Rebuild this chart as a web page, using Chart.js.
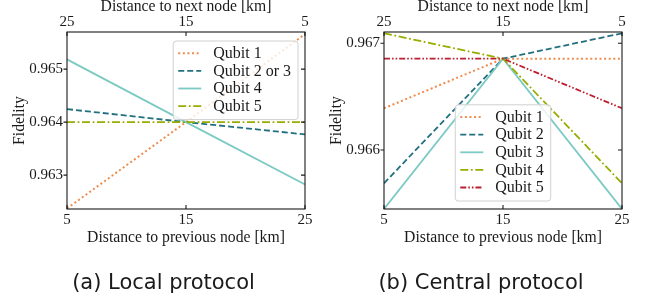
<!DOCTYPE html>
<html><head><meta charset="utf-8">
<script src="https://cdn.jsdelivr.net/npm/chart.js@4.4.1/dist/chart.umd.min.js"></script>
<style>
html,body{margin:0;padding:0;background:#fff;width:653px;height:302px;overflow:hidden;}
.wrap{position:absolute;top:0;width:326px;height:302px;}
.cap{position:absolute;top:268px;font-family:"DejaVu Sans";font-size:21px;line-height:28px;color:#1a1a1a;white-space:nowrap;transform:translateX(-50%);}
</style></head><body>
<div class="wrap" style="left:0"><canvas id="c1" width="326" height="302"></canvas></div>
<div class="wrap" style="left:317px"><canvas id="c2" width="326" height="302"></canvas></div>
<div class="cap" style="left:163.5px">(a) Local protocol</div>
<div class="cap" style="left:481px">(b) Central protocol</div>
<script>
// ---- data ----
const distances = [5, 15, 25];          // distance to previous node [km]
const bottomTicks = [5, 15, 25];
const topTicks = [25, 15, 5];           // distance to next node [km]

const localLabels = ['Qubit 1', 'Qubit 2 or 3', 'Qubit 4', 'Qubit 5'];
const localQ1  = [0.96237, 0.96400, 0.96566];
const localQ23 = [0.964245, 0.96400, 0.963768];
const localQ4  = [0.965183, 0.96400, 0.962824];
const localQ5  = [0.96400, 0.96400, 0.96400];
const localYTicks = [0.963, 0.964, 0.965];
const localYMin = 0.96236, localYMax = 0.96570;

const centralLabels = ['Qubit 1', 'Qubit 2', 'Qubit 3', 'Qubit 4', 'Qubit 5'];
const centralQ1 = [0.966391, 0.966856, 0.966856];
const centralQ2 = [0.965688, 0.966856, 0.967094];
const centralQ3 = [0.965447, 0.966856, 0.965447];
const centralQ4 = [0.967094, 0.966856, 0.965688];
const centralQ5 = [0.966856, 0.966856, 0.966391];
const centralYTicks = [0.966, 0.967];
const centralYMin = 0.965447, centralYMax = 0.967106;

// ---- styles ----
const ORANGE = {color: '#ef8c4c', dash: [2, 2.6], width: 2};
const DTEAL  = {color: '#22707f', dash: [6, 3], width: 1.8};
const LTEAL  = {color: '#7ccac3', dash: [], width: 1.8};
const OLIVE  = {color: '#98ad00', dash: [8, 2.6, 1.8, 2.6], width: 1.8};
const RED    = {color: '#bd1f30', dash: [6, 2, 1.6, 2, 1.6, 2], width: 1.8};

Chart.defaults.font.family = '"Liberation Serif"';
Chart.defaults.color = '#1a1a1a';

function ds(label, data, st, i, n) {
  return {
    label, data: distances.map((x, k) => ({x, y: data[k]})),
    borderColor: st.color, backgroundColor: st.color, borderDash: st.dash,
    borderWidth: st.width, pointRadius: 0, tension: 0, fill: false,
    borderCapStyle: 'butt', order: n - i
  };
}

const framePlugin = {
  id: 'frame',
  afterDatasetsDraw(chart, args, opts) {
    const {ctx, chartArea: a, scales} = chart;
    ctx.save();
    ctx.setLineDash([]);
    ctx.strokeStyle = '#1a1a1a';
    ctx.lineWidth = 1.1;
    ctx.strokeRect(a.left, a.top, a.right - a.left, a.bottom - a.top);
    ctx.beginPath();
    scales.x.ticks.forEach(t => { const p = scales.x.getPixelForValue(t.value); ctx.moveTo(p, a.bottom); ctx.lineTo(p, a.bottom - 4); });
    scales.x2.ticks.forEach(t => { const p = scales.x2.getPixelForValue(t.value); ctx.moveTo(p, a.top); ctx.lineTo(p, a.top + 4); });
    scales.y.ticks.forEach(t => { const p = scales.y.getPixelForValue(t.value); ctx.moveTo(a.left - 3.5, p); ctx.lineTo(a.left, p); ctx.moveTo(a.right, p); ctx.lineTo(a.right - 4, p); });
    ctx.stroke();

    // legend
    const dsets = chart.data.datasets;
    const n = dsets.length, rowH = 17.6;
    ctx.font = '16px "Liberation Serif"';
    const tw = Math.max(...dsets.map(d => ctx.measureText(d.label).width));
    const w = 5 + 23 + 12 + tw + 7;
    const h = 12.3 + (n - 1) * rowH + 13.5;
    let bx, by;
    if (opts.loc === 'upper right') { bx = a.right - 7 - w; by = a.top + 9; }
    else { bx = (a.left + a.right) / 2 - w / 2; by = a.bottom - 8 - h; }
    ctx.beginPath();
    ctx.roundRect(bx, by, w, h, 3);
    ctx.fillStyle = 'rgba(255,255,255,0.8)';
    ctx.fill();
    ctx.strokeStyle = '#d0d0d0';
    ctx.lineWidth = 1;
    ctx.stroke();
    ctx.textBaseline = 'middle';
    ctx.textAlign = 'left';
    dsets.forEach((d, i) => {
      const y = by + 12.3 + i * rowH;
      ctx.beginPath();
      ctx.setLineDash(d.borderDash || []);
      ctx.strokeStyle = d.borderColor;
      ctx.lineWidth = d.borderWidth;
      ctx.moveTo(bx + 5, y); ctx.lineTo(bx + 28, y);
      ctx.stroke();
      ctx.setLineDash([]);
      ctx.fillStyle = '#1a1a1a';
      ctx.fillText(d.label, bx + 40, y + 0.5);
    });
    ctx.restore();
  }
};

function makeScales(yMin, yMax, yTicks) {
  return {
    x: {
      type: 'linear', position: 'bottom', min: 5, max: 25,
      afterBuildTicks: s => { s.ticks = bottomTicks.map(v => ({value: v})); },
      ticks: {padding: 2, font: {size: 15}, maxRotation: 0, callback: v => String(v)},
      grid: {display: false, drawTicks: false}, border: {display: false},
      title: {display: true, text: 'Distance to previous node [km]', font: {size: 15.7}, padding: {top: 0, bottom: 54.6}},
      afterFit: s => { s.height = 93; }
    },
    x2: {
      type: 'linear', position: 'top', reverse: true, min: 5, max: 25,
      afterBuildTicks: s => { s.ticks = topTicks.map(v => ({value: v})); },
      ticks: {padding: 1.3, font: {size: 15}, maxRotation: 0, callback: v => String(v)},
      grid: {display: false, drawTicks: false}, border: {display: false},
      title: {display: true, text: 'Distance to next node [km]', font: {size: 15.7, lineHeight: 0.9}, padding: {top: 0, bottom: 0}},
      afterFit: s => { s.height = 32; }
    },
    y: {
      type: 'linear', position: 'left', min: yMin, max: yMax,
      afterBuildTicks: s => { s.ticks = yTicks.map(v => ({value: v})); },
      ticks: {padding: 4, font: {size: 15}, callback: v => Number(v).toFixed(3)},
      grid: {display: false, drawTicks: false}, border: {display: false},
      title: {display: true, text: 'Fidelity', font: {size: 15.7}, padding: {top: 10.6, bottom: 0}},
      afterFit: s => { s.width = 67; }
    }
  };
}

function makeChart(id, labels, series, styles, yMin, yMax, yTicks, loc) {
  const n = labels.length;
  return new Chart(document.getElementById(id), {
    type: 'line',
    data: {datasets: labels.map((l, i) => ds(l, series[i], styles[i], i, n))},
    options: {
      responsive: false, animation: false, devicePixelRatio: 1,
      layout: {padding: {left: 0, right: 21, top: 0, bottom: 0}},
      scales: makeScales(yMin, yMax, yTicks),
      plugins: {legend: {display: false}, tooltip: {enabled: false}, frame: {loc}}
    },
    plugins: [framePlugin]
  });
}

makeChart('c1', localLabels, [localQ1, localQ23, localQ4, localQ5],
  [ORANGE, DTEAL, LTEAL, OLIVE], localYMin, localYMax, localYTicks, 'upper right');
makeChart('c2', centralLabels, [centralQ1, centralQ2, centralQ3, centralQ4, centralQ5],
  [ORANGE, DTEAL, LTEAL, OLIVE, RED], centralYMin, centralYMax, centralYTicks, 'lower center');
</script>
</body></html>
